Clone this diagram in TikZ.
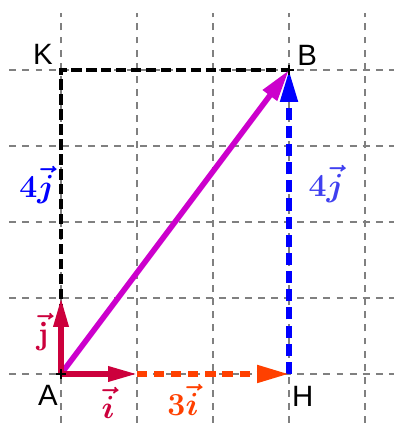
\documentclass[tikz,border=0pt]{standalone}
\usepackage{amsmath}
\usepackage{bm}
\usepackage[no-math]{fontspec}
\newfontfamily\labfont{Liberation Sans}
\usetikzlibrary{arrows.meta}
\definecolor{gridgray}{RGB}{128,128,128}
\definecolor{vmag}{RGB}{204,0,204}
\definecolor{vblue}{RGB}{0,0,255}
\definecolor{vbluelight}{RGB}{64,64,240}
\definecolor{vorange}{RGB}{255,64,0}
\definecolor{vcrimson}{RGB}{204,0,60}
\begin{document}
\begin{tikzpicture}[x=1cm,y=1cm,
  gridline/.style={gridgray, line width=0.5pt, dash pattern=on 2.6pt off 2.3pt},
  guide/.style={black, line width=1.3pt, dash pattern=on 3.9pt off 1.7pt},
  ptlabel/.style={font=\labfont\fontsize{11}{13}\selectfont, inner sep=0pt},
  veclabel/.style={font=\fontsize{11.5}{13}\selectfont, inner sep=0pt},
  bigvec/.style={line width=2.1pt, -{Triangle[length=0.42cm,width=0.22cm]}},
  unitvec/.style={vcrimson, line width=1.9pt, -{Triangle[length=0.38cm,width=0.19cm]}},
  marker/.style={black, line width=0.6pt}
]
\useasboundingbox (-0.803,-0.645) rectangle (4.382,4.921);
% grid
\foreach \y in {0,...,4} \draw[gridline] (-0.68,\y) -- (4.382,\y);
\foreach \x in {0,...,4} \draw[gridline] (\x,-0.645) -- (\x,4.75);
% points
\coordinate (A) at (0,0);
\coordinate (B) at (3,4);
\coordinate (H) at (3,0);
\coordinate (K) at (0,4);
\coordinate (I) at (1,0);
\coordinate (J) at (0,1);
% guides
\draw[guide] (A) -- (K) -- (B);
% vectors
\draw[bigvec, vmag] (A) -- (B);
\draw[bigvec, vblue, dash pattern=on 4.5pt off 2.3pt] (H) -- (B);
\draw[bigvec, vorange, dash pattern=on 3.8pt off 2.6pt] (I) -- (H);
\draw[unitvec] (A) -- (I);
\draw[unitvec] (A) -- (J);
% markers
\draw[marker] (A) ++(-0.06,0) -- ++(0.12,0) (A) ++(0,-0.06) -- ++(0,0.12);
\draw[marker] (B) ++(-0.06,0) -- ++(0.12,0) (B) ++(0,-0.06) -- ++(0,0.12);
% labels
\node[ptlabel] (lK) at (-0.237,4.21) {K};
\node[ptlabel] (lB) at (3.24,4.19) {B};
\node[ptlabel] (lA) at (-0.171,-0.276) {A};
\node[ptlabel] (lH) at (3.18,-0.30) {H};
\node[veclabel, text=vblue] (l4jL) at (-0.316,2.49) {$\bm{4\vec{j}}$};
\node[veclabel, text=vbluelight] (l4jR) at (3.49,2.50) {$\bm{4\vec{j}}$};
\node[veclabel, text=vcrimson] (li) at (0.618,-0.38) {$\bm{\vec{i}}$};
\node[veclabel, text=vorange] (l3i) at (1.605,-0.34) {$\bm{3\vec{i}}$};
\node[veclabel, text=vcrimson] (lj) at (-0.237,0.553) {$\bm{\vec{\mathrm{j}}}$};
\end{tikzpicture}
\end{document}
